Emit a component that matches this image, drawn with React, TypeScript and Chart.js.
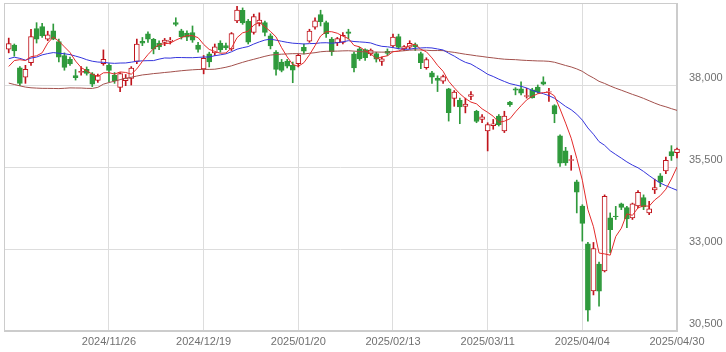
import React, { useEffect, useRef } from 'react';
import { Chart, registerables } from 'chart.js';

Chart.register(...registerables);

// Trading sessions shown on the chart
const dates = [
  '2024/10/30', '2024/10/31', '2024/11/01', '2024/11/05', '2024/11/06', '2024/11/07', '2024/11/08', '2024/11/11',
  '2024/11/12', '2024/11/13', '2024/11/14', '2024/11/15', '2024/11/18', '2024/11/19', '2024/11/20', '2024/11/21',
  '2024/11/22', '2024/11/25', '2024/11/26', '2024/11/27', '2024/11/28', '2024/11/29', '2024/12/02', '2024/12/03',
  '2024/12/04', '2024/12/05', '2024/12/06', '2024/12/09', '2024/12/10', '2024/12/11', '2024/12/12', '2024/12/13',
  '2024/12/16', '2024/12/17', '2024/12/18', '2024/12/19', '2024/12/20', '2024/12/23', '2024/12/24', '2024/12/25',
  '2024/12/26', '2024/12/27', '2024/12/30', '2025/01/06', '2025/01/07', '2025/01/08', '2025/01/09', '2025/01/10',
  '2025/01/14', '2025/01/15', '2025/01/16', '2025/01/17', '2025/01/20', '2025/01/21', '2025/01/22', '2025/01/23',
  '2025/01/24', '2025/01/27', '2025/01/28', '2025/01/29', '2025/01/30', '2025/01/31', '2025/02/03', '2025/02/04',
  '2025/02/05', '2025/02/06', '2025/02/07', '2025/02/10', '2025/02/12', '2025/02/13', '2025/02/14', '2025/02/17',
  '2025/02/18', '2025/02/19', '2025/02/20', '2025/02/21', '2025/02/25', '2025/02/26', '2025/02/27', '2025/02/28',
  '2025/03/03', '2025/03/04', '2025/03/05', '2025/03/06', '2025/03/07', '2025/03/10', '2025/03/11', '2025/03/12',
  '2025/03/13', '2025/03/14', '2025/03/17', '2025/03/18', '2025/03/19', '2025/03/21', '2025/03/24', '2025/03/25',
  '2025/03/26', '2025/03/27', '2025/03/28', '2025/03/31', '2025/04/01', '2025/04/02', '2025/04/03', '2025/04/04',
  '2025/04/07', '2025/04/08', '2025/04/09', '2025/04/10', '2025/04/11', '2025/04/14', '2025/04/15', '2025/04/16',
  '2025/04/17', '2025/04/18', '2025/04/21', '2025/04/22', '2025/04/23', '2025/04/24', '2025/04/25', '2025/04/28',
  '2025/04/30',
];

const opens = [
  39090, 39220, 38520, 38240, 38680, 39720, 39780, 39400, 39650, 39320, 38900, 38780, 38290, 38380, 38480, 38340,
  38140, 38650, 38600, 38300, 37930, 38130, 38200, 38720, 39330, 39560, 39390, 39280, 39300, 39330, 39900, 39650,
  39580, 39600, 39220, 38490, 38950, 38980, 39280, 39200, 39100, 39950, 40280, 39950, 39600, 39880, 39900, 39500,
  39000, 38700, 38730, 38600, 38650, 39150, 39340, 39760, 40150, 39900, 39400, 39280, 39300, 39620, 38950, 39100,
  39080, 38950, 38960, 38720, 39030, 39190, 39480, 39100, 39150, 39230, 38960, 38530, 38370, 38200, 38120, 37880,
  37590, 37530, 37350, 37650, 37200, 36950, 36600, 36760, 37050, 36600, 37480, 37880, 37880, 37650, 37850, 37940,
  38100, 37780, 37370, 36450, 35990, 35700, 35050, 34310, 33160, 31720, 32540, 32330, 33950, 34000, 34380, 34260,
  33950, 34310, 34570, 34100, 34800, 35230, 35380, 35970, 35940,
];

const highs = [
  39430, 39250, 38560, 38600, 39700, 39900, 39880, 39640, 39860, 39400, 38980, 38850, 38470, 38560, 38550, 38380,
  38330, 39070, 38650, 38380, 38380, 38320, 38560, 39400, 39450, 39620, 39420, 39350, 39420, 39450, 40050, 39700,
  39650, 39800, 39300, 38900, 39000, 39250, 39350, 39280, 39600, 40400, 40350, 40000, 40160, 40200, 39950, 39560,
  39050, 38780, 38780, 38700, 38950, 39250, 39700, 40050, 40280, 39950, 39450, 39450, 39600, 39700, 39000, 39150,
  39100, 39100, 39000, 38850, 39100, 39550, 39550, 39200, 39350, 39280, 39000, 38830, 38420, 38280, 38300, 37900,
  37830, 37600, 37600, 37800, 37230, 37100, 36850, 36950, 37100, 37200, 37500, 37920, 38100, 37900, 37900, 38000,
  38250, 37900, 37400, 36480, 36100, 35850, 35100, 34350, 33200, 33200, 32600, 34650, 34100, 34300, 34400, 34300,
  34400, 34780, 34650, 34450, 35130, 35300, 35800, 36150, 36080,
];

const lows = [
  38980, 38880, 37980, 38050, 38600, 39280, 39450, 39350, 39380, 38700, 38450, 38600, 38150, 38300, 38300, 37950,
  38080, 38600, 38100, 38050, 37800, 37980, 38000, 38650, 39200, 39300, 38950, 39080, 39200, 39250, 39800, 39400,
  39350, 39300, 39000, 38340, 38550, 38900, 39000, 39080, 39050, 39900, 39850, 39250, 39550, 39800, 39500, 39100,
  38300, 38400, 38520, 38070, 38550, 38950, 39300, 39700, 39800, 39450, 38900, 39200, 39250, 39400, 38400, 38750,
  38750, 38900, 38700, 38600, 38900, 39150, 39100, 39050, 39100, 39050, 38500, 38480, 38050, 37800, 38050, 36900,
  37350, 36820, 37150, 37550, 36850, 36850, 35990, 36650, 36750, 36550, 37350, 37700, 37700, 37600, 37600, 37750,
  38000, 37500, 36850, 35520, 35550, 35400, 34100, 33240, 30800, 31600, 31260, 32300, 32890, 33900, 34200, 33650,
  33900, 34250, 34200, 34050, 34690, 34900, 35300, 35700, 35780,
];

const closes = [
  39260, 39040, 38050, 38480, 39480, 39400, 39500, 39530, 39400, 38850, 38536, 38643, 38221, 38414, 38352, 38026,
  38284, 38780, 38442, 38135, 38349, 38208, 38513, 39249, 39276, 39396, 39091, 39160, 39368, 39372, 39849, 39470,
  39457, 39365, 39082, 38814, 38702, 39160, 39080, 39130, 39568, 40281, 39895, 39307, 40083, 39981, 39605, 39190,
  38474, 38445, 38573, 38451, 38903, 39028, 39646, 39959, 39932, 39566, 39017, 39415, 39514, 39572, 38520, 38798,
  38831, 39067, 38787, 38801, 38964, 39461, 39149, 39174, 39270, 39165, 38678, 38777, 38238, 38142, 38256, 37156,
  37785, 37331, 37418, 37705, 36887, 37028, 36793, 36819, 36790, 37053, 37397, 37845, 37752, 37677, 37608, 37781,
  38027, 37800, 37120, 35618, 35624, 35726, 34736, 33781, 31137, 33013, 31714, 34609, 33586, 33982, 34268, 33920,
  34377, 34730, 34280, 34221, 34869, 35039, 35706, 35840, 36045,
];

// Earlier closes (before the window) that feed the moving averages
const priorCloses = [
  42224, 41191, 41275, 41098, 40126, 40064, 39599, 39594, 39155, 37870, 37667, 38469, 38526, 39102,
  38126, 35910, 31458, 34675, 35090, 34831, 35025, 36233, 36443, 36727, 38063, 37389, 38063, 37952, 38211, 38364,
  38110, 38289, 38372, 38363, 38648,
  38701, 38686, 37048, 36657, 36392, 36159, 35961, 35620, 36833, 36581, 36204, 36380, 37155, 37724, 37941, 37870,
  38926, 39830, 37920,
  38652, 37809, 38552, 38636, 39333, 38938, 39278, 39381, 39606, 39911, 39181, 38912, 38982, 38955, 38412, 38105,
  38143, 37914, 38606, 38904,
];

const tickDates = ['2024/11/26', '2024/12/19', '2025/01/20', '2025/02/13', '2025/03/11', '2025/04/04', '2025/04/30'];
const yTickValues = [30500, 33000, 35500, 38000];
const maPeriods = [5, 25, 75];
const maColors = ['#e32b2b', '#3434dc', '#a2504c'];

const UP = '#c0141c';
const DOWN = '#2f9a3c';

function movingAverage(period: number): number[] {
  const all = priorCloses.concat(closes);
  const off = priorCloses.length;
  return closes.map((_, i) => {
    let s = 0;
    for (let k = off + i - period + 1; k <= off + i; k++) s += all[k];
    return s / period;
  });
}

const framePlugin = {
  id: 'frame',
  beforeDatasetsDraw(chart: any) {
    const { ctx, chartArea } = chart;
    ctx.save();
    ctx.strokeStyle = '#cccccc';
    ctx.lineWidth = 1;
    ctx.strokeRect(chartArea.left + 0.5, chartArea.top + 0.5, chartArea.right - chartArea.left - 1, chartArea.bottom - chartArea.top - 1);
    ctx.restore();
  },
};

export default function App() {
  const ref = useRef<HTMLCanvasElement | null>(null);

  useEffect(() => {
    if (!ref.current) return;
    const isUp = closes.map((c, i) => c >= opens[i]);
    const lineSets = maPeriods.map((p, k) => ({
      type: 'line' as const,
      data: movingAverage(p).map((v, i) => ({ x: i, y: v })),
      borderColor: maColors[k],
      borderWidth: 1,
      pointRadius: 0,
      tension: 0,
      fill: false,
      order: 0,
    }));
    const chart = new Chart(ref.current, {
      type: 'bar',
      data: {
        datasets: [
          {
            type: 'bar',
            data: dates.map((_, i) => ({ x: i, y: [lows[i], highs[i]] })) as any,
            backgroundColor: isUp.map((u) => (u ? UP : DOWN)),
            borderWidth: 0,
            barThickness: 1,
            grouped: false,
            clip: false,
            order: 3,
          } as any,
          {
            type: 'bar',
            data: dates.map((_, i) => ({ x: i, y: [opens[i], closes[i]] })) as any,
            backgroundColor: isUp.map((u) => (u ? '#ffffff' : DOWN)),
            borderColor: isUp.map((u) => (u ? UP : DOWN)),
            borderWidth: 1,
            borderSkipped: false,
            barThickness: 5,
            grouped: false,
            clip: false,
            order: 2,
          } as any,
          ...lineSets,
        ],
      },
      options: {
        responsive: false,
        animation: false,
        devicePixelRatio: 1,
        layout: { padding: { left: 4, top: 3, right: 0, bottom: 0 } },
        plugins: { legend: { display: false }, tooltip: { enabled: false } },
        scales: {
          x: {
            type: 'linear',
            offset: false,
            min: -0.85,
            max: dates.length - 1,
            afterBuildTicks: (scale: any) => {
              scale.ticks = tickDates.map((d) => ({ value: dates.indexOf(d) }));
            },
            afterFit: (scale: any) => {
              scale.height = 21;
              scale.paddingLeft = 0;
              scale.paddingRight = 0;
            },
            grid: { color: '#dddddd', drawTicks: false, offset: false },
            border: { color: '#cccccc' },
            ticks: {
              autoSkip: false,
              maxRotation: 0,
              padding: 4,
              color: '#707070',
              font: { family: 'Liberation Sans', size: 11 },
              callback: (v: any) => dates[v] ?? '',
            },
          },
          y: {
            type: 'linear',
            position: 'right',
            min: 30500,
            max: 40500,
            afterBuildTicks: (scale: any) => {
              scale.ticks = yTickValues.map((v) => ({ value: v }));
            },
            afterFit: (scale: any) => {
              scale.width = 49;
              scale.paddingTop = 0;
              scale.paddingBottom = 0;
            },
            grid: { color: '#dddddd', drawTicks: false },
            border: { color: '#cccccc' },
            ticks: {
              padding: 12,
              labelOffset: -7,
              color: '#707070',
              font: { family: 'Liberation Sans', size: 11 },
              callback: (v: any) => Number(v).toLocaleString('en-US'),
            },
          },
        },
      } as any,
      plugins: [framePlugin],
    });
    return () => chart.destroy();
  }, []);

  return (
    <div style={{ position: 'absolute', left: 0, top: 0, width: 726, height: 352, background: '#fff' }}>
      <canvas ref={ref} width={726} height={352} style={{ display: 'block' }} />
    </div>
  );
}
